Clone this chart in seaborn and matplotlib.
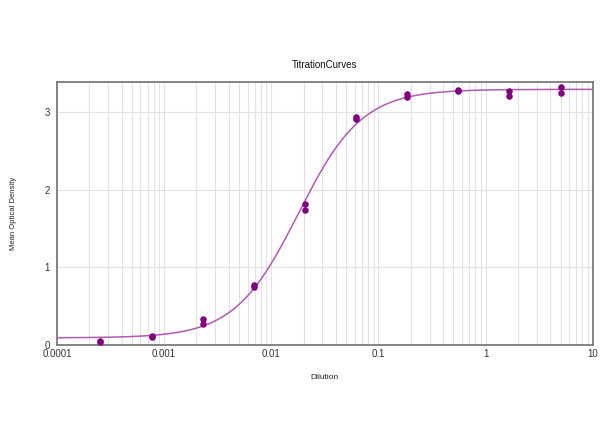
import numpy as np
import pandas as pd
import matplotlib
matplotlib.use("Agg")
import matplotlib.pyplot as plt
import matplotlib.ticker as mticker
import seaborn as sns

# Data (3-fold dilution series, duplicates)
dilution = [5.0, 1.667, 0.5556, 0.1852, 0.06173, 0.02058, 0.006859, 0.002286, 0.000762, 0.000254]
od_rep1 = [3.32, 3.27, 3.28, 3.23, 2.93, 1.82, 0.77, 0.33, 0.11, 0.05]
od_rep2 = [3.25, 3.21, 3.27, 3.19, 2.91, 1.74, 0.74, 0.27, 0.10, 0.04]

x_ticks = [0.0001, 0.001, 0.01, 0.1, 1, 10]
x_tick_labels = ["0.0001", "0.001", "0.01", "0.1", "1", "10"]
y_ticks = [0, 1, 2, 3]

df = pd.DataFrame({
    "Dilution": dilution * 2,
    "OD": od_rep1 + od_rep2,
})

# 4-parameter logistic fit (grid search on EC50 / slope, linear LS for bottom/top)
xd = np.array(df["Dilution"])
yd = np.array(df["OD"])
best = None
for lc in np.linspace(np.log10(0.005), np.log10(0.06), 200):
    for b in np.linspace(0.8, 2.5, 150):
        g = 1.0 / (1.0 + (xd / 10**lc) ** (-b))
        A = np.vstack([np.ones_like(g), g]).T
        coef, res, *_ = np.linalg.lstsq(A, yd, rcond=None)
        r = np.sum((A @ coef - yd) ** 2)
        if best is None or r < best[0]:
            best = (r, lc, b, coef)
_, lc, b, coef = best
xs = np.logspace(-4, 1, 400)
ys = coef[0] + coef[1] / (1.0 + (xs / 10**lc) ** (-b))
curve = pd.DataFrame({"Dilution": xs, "OD": ys})

sns.set_theme(style="white")
plt.rcParams["font.family"] = ["Liberation Sans", "DejaVu Sans"]

fig = plt.figure(figsize=(6, 4.47), dpi=100)
ax = fig.add_axes([0.095, 0.229, 0.893, 0.588])
ax.set_xscale("log")

sns.lineplot(data=curve, x="Dilution", y="OD", ax=ax, color="#b05ab0", linewidth=1.1, zorder=3)
sns.scatterplot(data=df, x="Dilution", y="OD", ax=ax, color="#800080", s=22,
                edgecolor="#800080", linewidth=0, zorder=4)

ax.set_xlim(1e-4, 10)
ax.set_ylim(0, 3.39)
ax.set_xticks(x_ticks)
ax.set_xticklabels(x_tick_labels)
ax.xaxis.set_minor_locator(mticker.LogLocator(base=10, subs=np.arange(2, 10)))
ax.xaxis.set_minor_formatter(mticker.NullFormatter())
ax.set_yticks(y_ticks)

ax.grid(True, which="both", axis="x", color="#e2e2e2", linewidth=0.8)
ax.grid(True, which="major", axis="y", color="#e2e2e2", linewidth=0.8)
ax.set_axisbelow(True)

for s in ax.spines.values():
    s.set_color("#707070")
    s.set_linewidth(1.2)

ax.tick_params(axis="both", which="both", length=0, labelsize=7, colors="#333333", pad=3)
ax.tick_params(axis="y", pad=5)
ax.set_xlabel("Dilution", fontsize=6, color="#222222", labelpad=11)
ax.set_ylabel("Mean Optical Density", fontsize=5.5, color="#222222", labelpad=20)
ax.set_title("TitrationCurves", fontsize=7, color="#111111", pad=10)

fig.savefig("out.png", dpi=100, facecolor="white")
